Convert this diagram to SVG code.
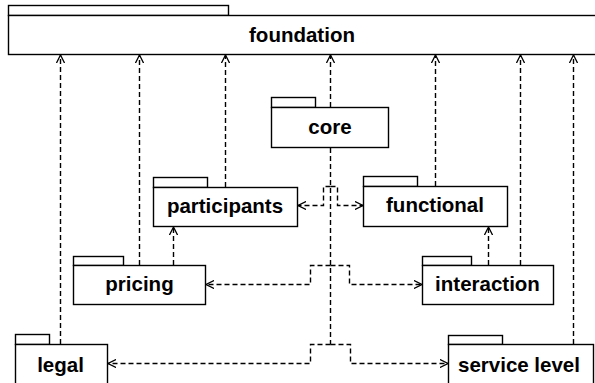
<svg xmlns="http://www.w3.org/2000/svg" width="595" height="383" viewBox="0 0 595 383">
  <defs>
    <marker id="open" viewBox="0 0 10 10" refX="9" refY="5" markerWidth="9" markerHeight="9" markerUnits="userSpaceOnUse" orient="auto">
      <path d="M0,0.5 L9,5 L0,9.5" fill="none" stroke="#000" stroke-width="1.4"/>
    </marker>
  </defs>
  <style>
    .pkg { fill: #fff; stroke: #000; stroke-width: 1.4; }
    .lbl { font-family: "Liberation Sans", Arial, sans-serif; font-weight: bold; font-size: 20.5px; fill: #000; text-anchor: middle; }
    .dep { fill: none; stroke: #000; stroke-width: 1.4; stroke-dasharray: 5 3; marker-end: url(#open); }
    .trunk { fill: none; stroke: #000; stroke-width: 1.4; stroke-dasharray: 5 3; }
  </style>
  <rect width="595" height="383" fill="#fff"/>

  <!-- packages -->
  <g id="foundation">
    <rect class="pkg" x="8.5" y="5.5" width="220" height="10"/>
    <rect class="pkg" x="8.5" y="15.5" width="590" height="39"/>
    <text class="lbl" x="302" y="42">foundation</text>
  </g>
  <g id="core">
    <rect class="pkg" x="271.5" y="97.5" width="44" height="10"/>
    <rect class="pkg" x="271.5" y="107.5" width="117" height="40"/>
    <text class="lbl" x="330" y="134">core</text>
  </g>
  <g id="participants">
    <rect class="pkg" x="153.5" y="177.5" width="54" height="10"/>
    <rect class="pkg" x="153.5" y="187.5" width="144" height="39"/>
    <text class="lbl" x="225" y="213">participants</text>
  </g>
  <g id="functional">
    <rect class="pkg" x="363.5" y="176.5" width="54" height="10"/>
    <rect class="pkg" x="363.5" y="186.5" width="144" height="40"/>
    <text class="lbl" x="435" y="212">functional</text>
  </g>
  <g id="pricing">
    <rect class="pkg" x="73.5" y="256.5" width="50" height="9"/>
    <rect class="pkg" x="73.5" y="265.5" width="132" height="39"/>
    <text class="lbl" x="139.5" y="291">pricing</text>
  </g>
  <g id="interaction">
    <rect class="pkg" x="422.5" y="256.5" width="49" height="9"/>
    <rect class="pkg" x="422.5" y="265.5" width="131" height="39"/>
    <text class="lbl" x="487.5" y="291">interaction</text>
  </g>
  <g id="legal">
    <rect class="pkg" x="15.5" y="334.5" width="34" height="10"/>
    <rect class="pkg" x="15.5" y="344.5" width="92" height="45"/>
    <text class="lbl" x="60.5" y="372">legal</text>
  </g>
  <g id="service-level">
    <rect class="pkg" x="448.5" y="335.5" width="54" height="9"/>
    <rect class="pkg" x="448.5" y="344.5" width="145" height="45"/>
    <text class="lbl" x="519" y="372">service level</text>
  </g>

  <!-- dependencies -->
  <g id="connectors">
    <path class="dep" d="M60.5,344 V55"/>
    <path class="dep" d="M139.5,265 V55"/>
    <path class="dep" d="M225.5,187 V55"/>
    <path class="dep" d="M330.5,107 V55"/>
    <path class="dep" d="M435.5,186 V55"/>
    <path class="dep" d="M520.5,265 V55"/>
    <path class="dep" d="M573.5,344 V55"/>
    <path class="dep" d="M173.5,265 V227"/>
    <path class="dep" d="M488.5,265 V227"/>
    <!-- shared stem below core, then the six branches -->
    <path class="trunk" d="M330.5,148 V344.5"/>
    <path class="dep" d="M330.5,186.5 H323.5 V205.5 H298"/>
    <path class="dep" d="M330.5,186.5 H337.5 V205.5 H363"/>
    <path class="dep" d="M330.5,265.5 H310.5 V284.5 H206"/>
    <path class="dep" d="M330.5,265.5 H349.5 V284.5 H422"/>
    <path class="dep" d="M330.5,344.5 H310.5 V363.5 H108"/>
    <path class="dep" d="M330.5,344.5 H350.5 V363.5 H448"/>
  </g>
</svg>
